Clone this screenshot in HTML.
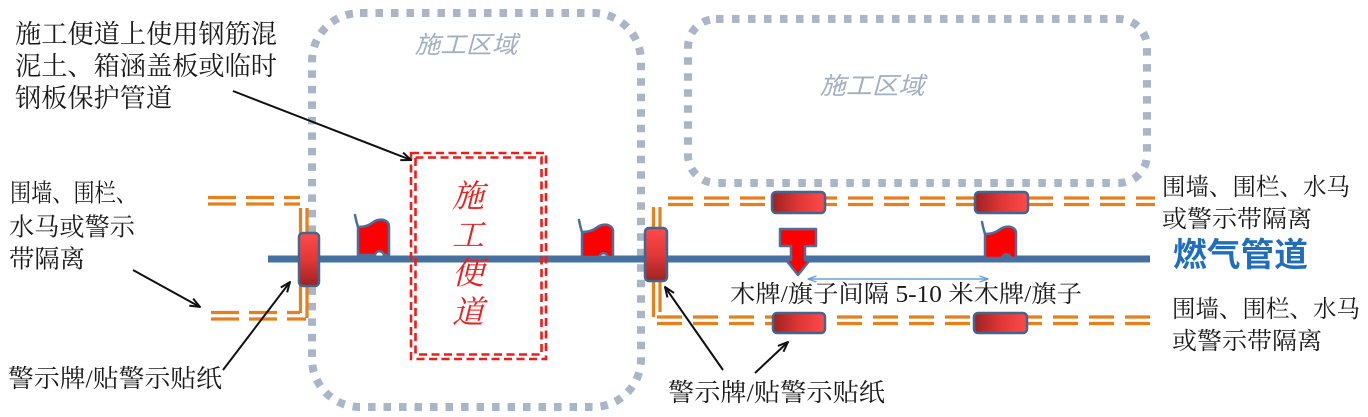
<!DOCTYPE html>
<html>
<head>
<meta charset="utf-8">
<style>
  html, body { margin: 0; padding: 0; background: #ffffff; }
  body { width: 1368px; height: 417px; overflow: hidden; }
  svg { display: block; }
  .blk { font-family: "Liberation Serif", "Noto Serif CJK SC", serif; fill: #1a1a1a; }
</style>
</head>
<body>
<svg width="1368" height="417" viewBox="0 0 1368 417" xmlns="http://www.w3.org/2000/svg">
  <defs>
    <linearGradient id="gv" x1="0" y1="0" x2="0" y2="1">
      <stop offset="0" stop-color="#ff4a4a"/>
      <stop offset="0.5" stop-color="#e23838"/>
      <stop offset="1" stop-color="#9e2222"/>
    </linearGradient>
    <linearGradient id="gh" x1="0" y1="0" x2="1" y2="0">
      <stop offset="0" stop-color="#9e2222"/>
      <stop offset="0.5" stop-color="#e03636"/>
      <stop offset="1" stop-color="#ff4a4a"/>
    </linearGradient>
    <marker id="ah" viewBox="0 0 12 10" refX="11" refY="5" markerWidth="12" markerHeight="10" markerUnits="userSpaceOnUse" orient="auto">
      <path d="M1,1 L11,5 L1,9" fill="none" stroke="#111" stroke-width="2"/>
    </marker>
    <marker id="bh" viewBox="0 0 10 8" refX="9.5" refY="4" markerWidth="10" markerHeight="8" markerUnits="userSpaceOnUse" orient="auto-start-reverse">
      <path d="M1,1 L9.5,4 L1,7" fill="none" stroke="#6aa0d8" stroke-width="1.4"/>
    </marker>
  </defs>

  <!-- construction zones (gray dotted rounded rects) -->
  <rect x="312" y="13" width="329" height="394" rx="48" ry="48" fill="none" stroke="#aab5c8" stroke-width="8" stroke-dasharray="7.5 8"/>
  <rect x="688" y="19" width="459" height="164" rx="28" ry="28" fill="none" stroke="#aab5c8" stroke-width="8" stroke-dasharray="7.5 8.5"/>

  <text x="466" y="53" text-anchor="middle" font-family="Liberation Sans, 'Noto Sans CJK SC', sans-serif" font-size="24" font-style="italic" fill="#a3afc2" textLength="103" lengthAdjust="spacingAndGlyphs">施工区域</text>
  <text x="872" y="94" text-anchor="middle" font-family="Liberation Sans, 'Noto Sans CJK SC', sans-serif" font-size="24" font-style="italic" fill="#a3afc2" textLength="105" lengthAdjust="spacingAndGlyphs">施工区域</text>

  <!-- orange double lines -->
  <g stroke="#e5801c" stroke-width="3.2" fill="none">
    <line x1="208" y1="197.5" x2="300" y2="197.5" stroke-dasharray="28 10"/>
    <line x1="208" y1="204" x2="300" y2="204" stroke-dasharray="28 10"/>
    <line x1="300.5" y1="208" x2="300.5" y2="313"/>
    <line x1="307" y1="208" x2="307" y2="318"/>
    <line x1="211" y1="312.5" x2="300" y2="312.5" stroke-dasharray="28 10"/>
    <line x1="211" y1="319" x2="306" y2="319" stroke-dasharray="28 10"/>
    <line x1="653.5" y1="207" x2="653.5" y2="317"/>
    <line x1="660" y1="207" x2="660" y2="312"/>
    <line x1="668" y1="198" x2="1155" y2="198" stroke-dasharray="25 11"/>
    <line x1="668" y1="204.5" x2="1155" y2="204.5" stroke-dasharray="25 11"/>
    <line x1="657" y1="317" x2="1158" y2="317" stroke-dasharray="25 11"/>
    <line x1="657" y1="323.5" x2="1158" y2="323.5" stroke-dasharray="25 11"/>
  </g>

  <!-- pipe -->
  <line x1="268" y1="259" x2="1150" y2="259" stroke="#44719f" stroke-width="7"/>

  <!-- red dashed access road (double line) -->
  <rect x="411" y="153" width="135" height="206" fill="none" stroke="#ee1c1c" stroke-width="2.6" stroke-dasharray="8 4.5"/>
  <rect x="415.5" y="157.5" width="126" height="197" fill="none" stroke="#ee1c1c" stroke-width="2.6" stroke-dasharray="8 4.5"/>
  <g font-family="Liberation Serif, 'Noto Serif CJK SC', serif" font-size="32" font-style="italic" fill="#e82020" text-anchor="middle">
    <text x="468" y="207">施</text>
    <text x="468" y="246">工</text>
    <text x="468" y="284">便</text>
    <text x="468" y="323">道</text>
  </g>

  <!-- flags -->
  <g fill="#ff0000" stroke="#4a6f9a" stroke-width="2.5" stroke-linejoin="round">
    <path transform="translate(355,215)" d="M0,0 C1,5 2,9 3,12 C8,12 13,11 17,8 C21,5 25,4 29,5 C32,6 34,8 34,11 L34,40 L29,40 C28,35 21,35 20,40 L3,40 L3,12 C2,9 1,5 0,0 Z"/>
    <path transform="translate(579,220)" d="M0,0 C1,5 2,9 3,12 C8,12 13,11 17,8 C21,5 25,4 29,5 C32,6 34,8 34,11 L34,37 L29,37 C28,32 21,32 20,37 L3,37 L3,12 C2,9 1,5 0,0 Z"/>
    <path transform="translate(982,222)" d="M0,0 C1,5 2,9 3,12 C8,12 13,11 17,8 C21,5 25,4 29,5 C32,6 34,8 34,11 L34,36 L29,36 C28,31 21,31 20,36 L3,36 L3,12 C2,9 1,5 0,0 Z"/>
  </g>

  <!-- warning plates -->
  <g stroke="#41668f" stroke-width="2.5">
    <rect x="299" y="233" width="20" height="53" rx="4" fill="url(#gv)"/>
    <rect x="645" y="228" width="22" height="53" rx="4" fill="url(#gv)"/>
    <rect x="772" y="192" width="53" height="21" rx="4" fill="url(#gh)"/>
    <rect x="975" y="192" width="53" height="21" rx="4" fill="url(#gh)"/>
    <rect x="773" y="313" width="52" height="20" rx="4" fill="url(#gh)"/>
    <rect x="974" y="313" width="53" height="20" rx="4" fill="url(#gh)"/>
  </g>

  <!-- T wooden sign with arrow -->
  <polygon points="780,229 816,229 816,246 805,246 805,260 810,260 798,275 786,260 791,260 791,246 780,246" fill="#ff0000" stroke="#4a6f9a" stroke-width="2.5" stroke-linejoin="round"/>

  <!-- spacing arrow -->
  <line x1="808" y1="279" x2="988" y2="279" stroke="#6aa0d8" stroke-width="1.4" marker-start="url(#bh)" marker-end="url(#bh)"/>

  <!-- black arrows -->
  <g stroke="#111" stroke-width="2" fill="none" marker-end="url(#ah)">
    <line x1="233" y1="91" x2="411" y2="160"/>
    <line x1="133" y1="270" x2="200" y2="307"/>
    <line x1="223" y1="370" x2="290" y2="282"/>
    <line x1="723" y1="370" x2="665" y2="287"/>
    <line x1="755" y1="373" x2="788" y2="342"/>
  </g>

  <!-- labels -->
  <g class="blk" font-size="26">
    <text x="15" y="43" textLength="262" lengthAdjust="spacingAndGlyphs">施工便道上使用钢筋混</text>
    <text x="15" y="75" textLength="262" lengthAdjust="spacingAndGlyphs">泥土、箱涵盖板或临时</text>
    <text x="15" y="107" textLength="157" lengthAdjust="spacingAndGlyphs">钢板保护管道</text>
  </g>
  <g class="blk" font-size="25">
    <text x="10" y="201.5" textLength="127" lengthAdjust="spacingAndGlyphs">围墙、围栏、</text>
    <text x="9" y="235.5" textLength="126" lengthAdjust="spacingAndGlyphs">水马或警示</text>
    <text x="9" y="267.5" textLength="76" lengthAdjust="spacingAndGlyphs">带隔离</text>
    <text x="8" y="387" textLength="214" lengthAdjust="spacingAndGlyphs">警示牌/贴警示贴纸</text>
    <text x="668" y="401" textLength="217" lengthAdjust="spacingAndGlyphs">警示牌/贴警示贴纸</text>
  </g>
  <g class="blk" font-size="24">
    <text x="730" y="302" textLength="352" lengthAdjust="spacingAndGlyphs">木牌/旗子间隔 5-10 米木牌/旗子</text>
    <text x="1162" y="195" textLength="188" lengthAdjust="spacingAndGlyphs">围墙、围栏、水马</text>
    <text x="1162" y="227" textLength="150" lengthAdjust="spacingAndGlyphs">或警示带隔离</text>
    <text x="1172" y="317" textLength="188" lengthAdjust="spacingAndGlyphs">围墙、围栏、水马</text>
    <text x="1172" y="349" textLength="150" lengthAdjust="spacingAndGlyphs">或警示带隔离</text>
  </g>
  <text x="1173" y="266" font-family="Liberation Sans, 'Noto Sans CJK SC', sans-serif" font-size="33" font-weight="bold" fill="#1f6ebd" textLength="135" lengthAdjust="spacingAndGlyphs">燃气管道</text>
</svg>
</body>
</html>
